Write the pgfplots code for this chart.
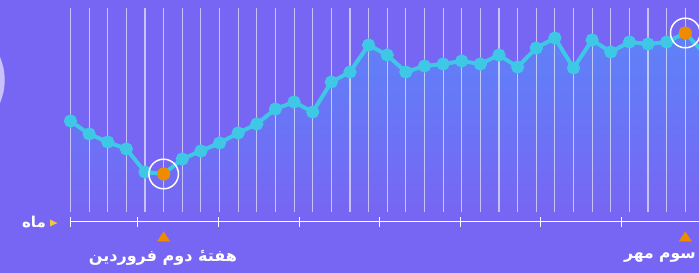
\documentclass[border=0pt]{standalone}
\usepackage{fontspec}
\usepackage{pgfplots}
\usepackage{pgfplotstable}
\pgfplotsset{compat=1.18}
\TeXXeTstate=1
\newfontfamily\arabicfont[Script=Arabic]{DejaVu Sans}
\definecolor{bgp}{HTML}{7766F3}
\definecolor{areatop}{HTML}{5E82F8}
\definecolor{linec}{HTML}{3EC8E6}
\definecolor{orng}{HTML}{F08A00}
\definecolor{ylw}{HTML}{F5C542}

\pgfplotstableread{
x y
0 91
1 78
2 70
3 63
4 40
5 38
6 53
7 61
8 69
9 79
10 88
11 103
12 110
13 100
14 130
15 140
16 167
17 157
18 140
19 146
20 148
21 151
22 148
23 157
24 145
25 164
26 174
27 144
28 172
29 160
30 170
31 168
32 170
33 179
34 159
}\datatable

\begin{document}
\begin{tikzpicture}
\fill[bgp] (0,0) rectangle (699pt,273pt);
\begin{scope}
\clip (0,0) rectangle (699pt,273pt);
\fill[white, opacity=0.6] (-53.9pt,193pt) circle (58.6pt);
\end{scope}
\begin{axis}[at={(0,0)}, anchor=south west, scale only axis,
  width=699pt, height=273pt,
  xmin=-3.784, xmax=33.736, ymin=-61, ymax=212,
  axis lines=none, ticks=none, clip=true]
\addplot[draw=none, top color=areatop, bottom color=bgp, forget plot] table {\datatable} \closedcycle;
\pgfplotsinvokeforeach{0,...,34}{\draw[white, opacity=0.6, line width=1.1pt] (axis cs:#1,0) -- (axis cs:#1,204);}
\addplot[linec, line width=4pt, mark=*, mark size=4.5pt, mark options={fill=linec, draw=none}] table {\datatable};
\addplot[orng, only marks, mark=*, mark size=6.3pt, mark options={fill=orng, draw=orng, line width=0.4pt}] coordinates {(5,38) (33,179)};
\addplot[white, only marks, mark=o, mark size=14.8pt, mark options={draw=white, line width=1.5pt}] coordinates {(5,38) (33,179)};
\addplot[orng, only marks, mark=triangle*, mark size=7pt, mark options={fill=orng, draw=orng, line width=0.4pt, yscale=0.9}] coordinates {(5,-26) (33,-26)};
\draw[white, line width=1pt] (axis cs:0,-10) -- (axis cs:36,-10);
\pgfplotsinvokeforeach{0,3.62,7.95,12.27,16.6,20.92,25.25,29.57,33.9}{\draw[white, line width=1pt] (axis cs:#1,-5.5) -- (axis cs:#1,-15);}
\end{axis}
\node[anchor=east, text=white, inner sep=0pt, font=\arabicfont\bfseries\fontsize{15}{17}\selectfont] at (46pt,51pt) {\beginR ماه\endR};
\fill[ylw] (50pt,53.5pt) -- (57.3pt,50pt) -- (50pt,46.5pt) -- cycle;
\node[text=white, inner sep=0pt, font=\arabicfont\bfseries\fontsize{16}{18}\selectfont] at (163pt,15pt) {\beginR هفتهٔ دوم فروردین\endR};
\node[anchor=east, text=white, inner sep=0pt, font=\arabicfont\bfseries\fontsize{15.6}{18}\selectfont] at (696pt,15pt) {\beginR سوم مهر\endR};
\pgfresetboundingbox
\useasboundingbox (0,0) rectangle (699pt,273pt);
\end{tikzpicture}
\end{document}
